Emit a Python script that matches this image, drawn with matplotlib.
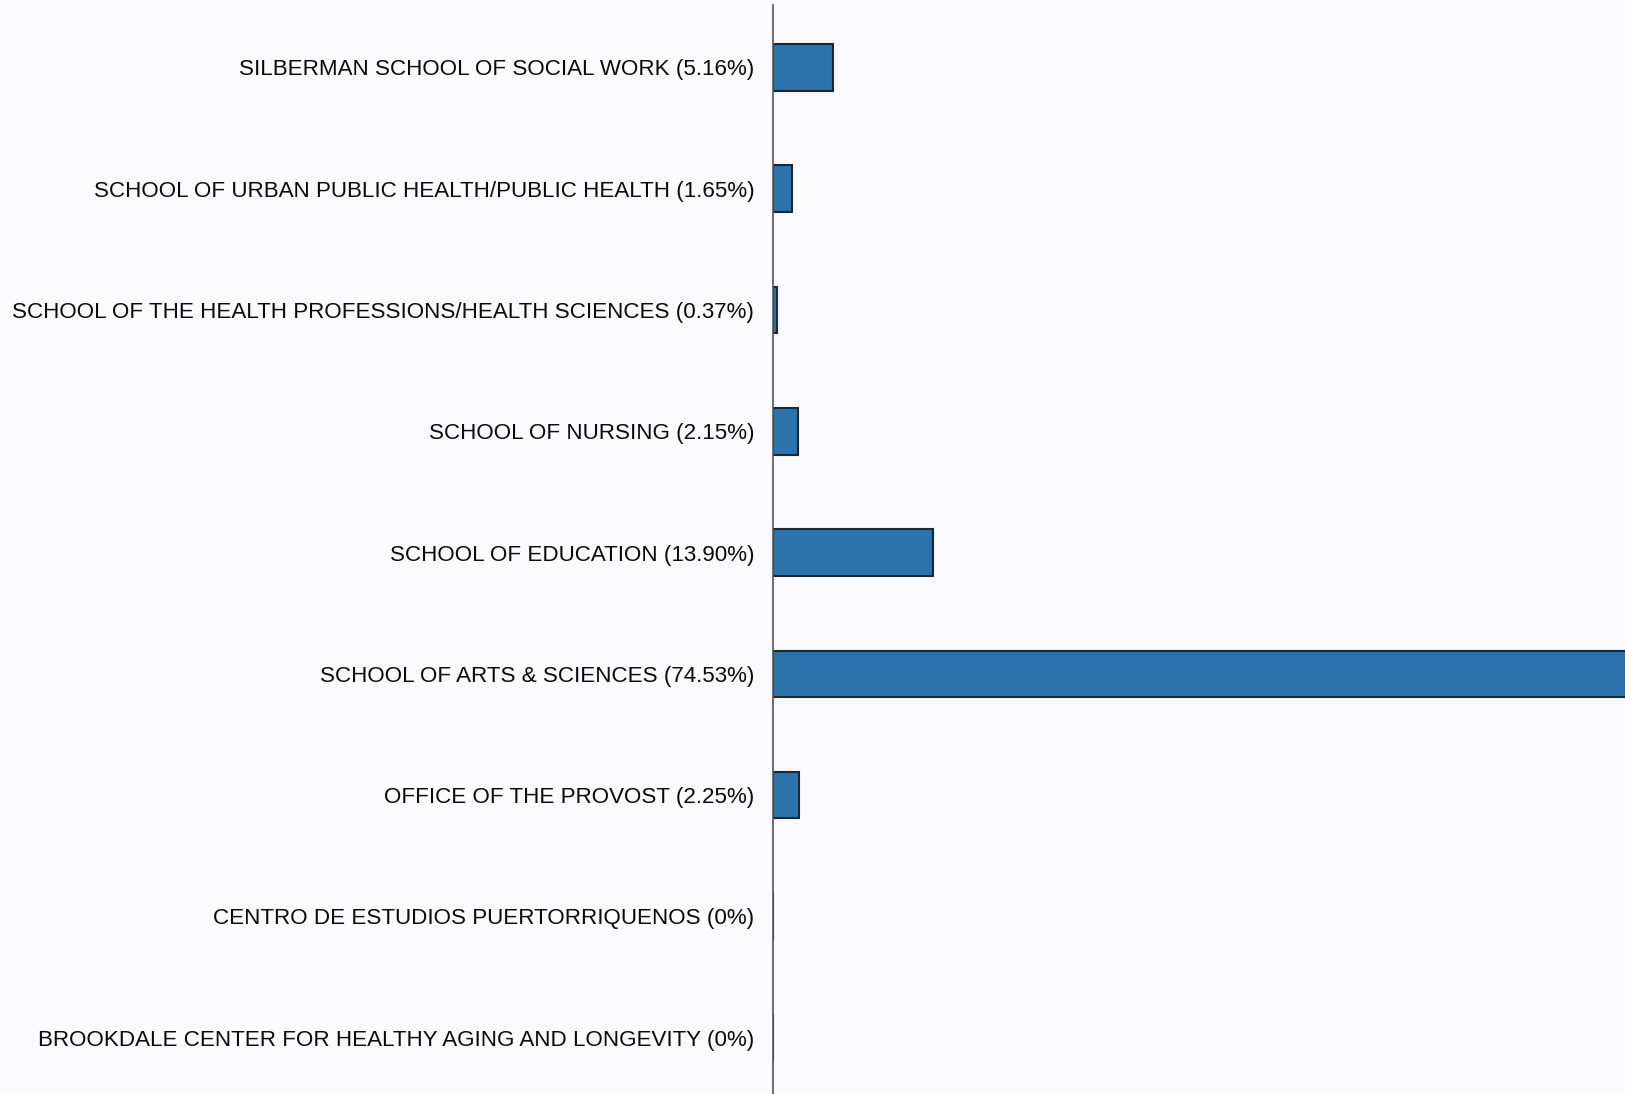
import matplotlib.pyplot as plt

schools = ['SILBERMAN SCHOOL OF SOCIAL WORK',
           'SCHOOL OF URBAN PUBLIC HEALTH/PUBLIC HEALTH',
           'SCHOOL OF THE HEALTH PROFESSIONS/HEALTH SCIENCES',
           'SCHOOL OF NURSING',
           'SCHOOL OF EDUCATION',
           'SCHOOL OF ARTS & SCIENCES',
           'OFFICE OF THE PROVOST',
           'CENTRO DE ESTUDIOS PUERTORRIQUENOS',
           'BROOKDALE CENTER FOR HEALTHY AGING AND LONGEVITY']
pct = [5.16, 1.65, 0.37, 2.15, 13.90, 74.53, 2.25, 0, 0]
pct_text = ['5.16%', '1.65%', '0.37%', '2.15%', '13.90%', '74.53%', '2.25%', '0%', '0%']

labels = [s + ' (' + t + ')' for s, t in zip(schools, pct_text)]

plt.rcParams['font.family'] = ['Liberation Sans', 'DejaVu Sans']

fig = plt.figure(figsize=(16.25, 10.94), dpi=100, facecolor='#fafafc')
ax = fig.add_axes([0.4757, 0.0, 0.5243, 0.9954])
ax.set_facecolor('#fafafc')

ypos = list(range(len(pct)))
ax.barh(ypos, pct, height=0.384, color='#2c73ad', edgecolor='#1b2733', linewidth=1.5)

ax.set_yticks(ypos)
ax.set_yticklabels(labels, fontsize=16.1, color='#0a0a0a')
ax.tick_params(axis='y', length=0, pad=13.5)
ax.set_ylim(8.464, -0.514)
ax.set_xlim(0, 73.8)
ax.set_xticks([])

for s in ['top', 'right', 'bottom']:
    ax.spines[s].set_visible(False)
ax.spines['left'].set_color('#555555')
ax.spines['left'].set_linewidth(1.2)

fig.savefig('out.png', dpi=100, facecolor=fig.get_facecolor())
